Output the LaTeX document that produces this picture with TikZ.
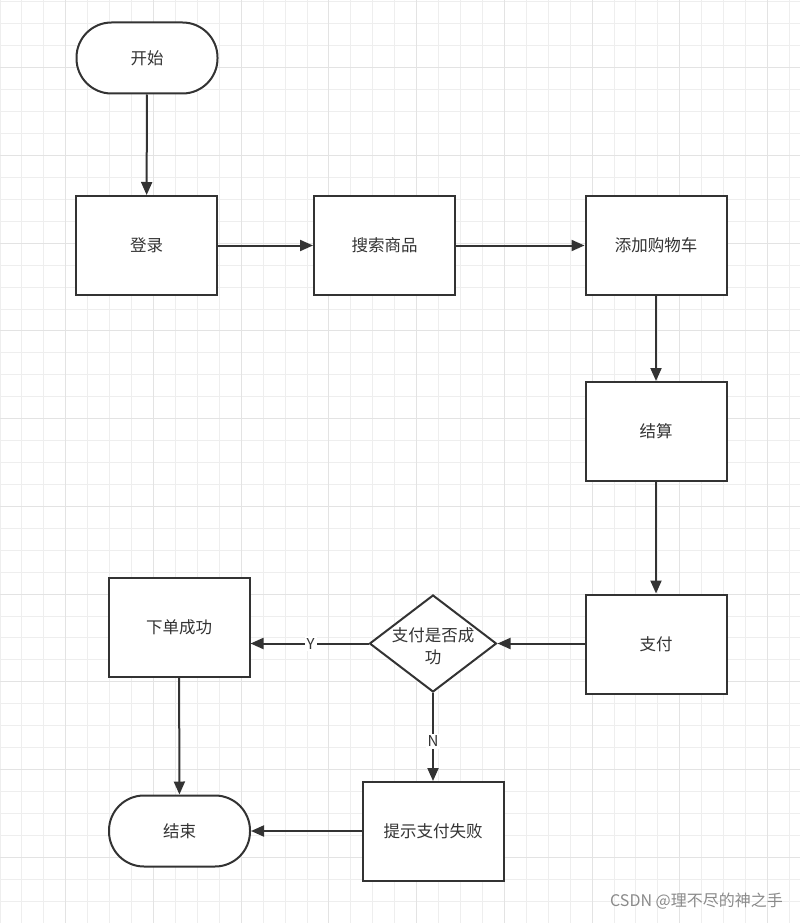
\documentclass[tikz,border=0pt]{standalone}
\usepackage{fontspec}
\newfontfamily\cjk{Noto Sans CJK SC}
\usetikzlibrary{arrows.meta,shapes.geometric}
\definecolor{linec}{HTML}{333333}
\definecolor{textc}{HTML}{333333}
\definecolor{gridminor}{HTML}{EEEEEE}
\definecolor{gridmajor}{HTML}{E3E3E3}
\definecolor{markc}{HTML}{8A8A8A}
\tikzset{
  box/.style={draw=linec, line width=2pt, fill=white, rectangle, minimum width=141pt, minimum height=99pt, inner sep=0pt, font=\cjk\fontsize{16.5}{20}\selectfont, text=textc},
  term/.style={draw=linec, line width=2pt, fill=white, rectangle, rounded corners=35pt, minimum width=141pt, minimum height=71pt, inner sep=0pt, font=\cjk\fontsize{16.5}{20}\selectfont, text=textc},
  decide/.style={draw=linec, line width=2pt, fill=white, diamond, inner sep=0pt, minimum width=127pt, minimum height=97pt},
  decidetext/.style={inner sep=0pt, font=\cjk\fontsize{16.5}{21.5}\selectfont, text=textc, align=center},
  conn/.style={draw=linec, line width=2pt, -{Triangle[length=13pt,width=11pt]}},
  lbl/.style={fill=white, inner sep=2pt, font=\cjk\fontsize{15}{18}\selectfont, text=textc},
  gminor/.style={draw=gridminor, line width=1pt},
  gmajor/.style={draw=gridmajor, line width=1pt}
}
\begin{document}
\begin{tikzpicture}[x=1pt,y=-1pt]
\useasboundingbox (0,0) rectangle (800,923);
\fill[white] (0,0) rectangle (800,923);
% grid
\foreach \i in {0,...,36}{
  \draw[gminor] (\i*21.93,0) -- (\i*21.93,923);
}
\foreach \i in {0,...,42}{
  \draw[gminor] (0,2+\i*21.93) -- (800,2+\i*21.93);
}
\foreach \i in {0,...,8}{
  \draw[gmajor] (65.79+\i*87.72,0) -- (65.79+\i*87.72,923);
}
\foreach \i in {0,...,10}{
  \draw[gmajor] (0,67.79+\i*87.72) -- (800,67.79+\i*87.72);
}
% nodes
\node[term] (start) at (147,58) {开始};
\node[box] (login) at (146.5,245.5) {登录};
\node[box] (search) at (384.5,245.5) {搜索商品};
\node[box] (cart) at (656,245.5) {添加购物车};
\node[box] (settle) at (656,431.5) {结算};
\node[box] (pay) at (656,644) {支付};
\node[decide] (ok) at (433,643.5) {};
\node[decidetext] (okt) at (433,646) {支付是否成\\功};
\node[box] (done) at (179,627.5) {下单成功};
\node[term] (end) at (179.5,831) {结束};
\node[box] (fail) at (433,831.5) {提示支付失败};
% connectors
\draw[conn] (start) -- (login);
\draw[conn] (login) -- (search);
\draw[conn] (search) -- (cart);
\draw[conn] (cart) -- (settle);
\draw[conn] (settle) -- (pay);
\draw[conn] (pay.west |- ok.east) -- (ok.east);
\draw[conn] (ok.west) -- node[lbl, pos=0.49] (ylab) {Y} (done.east |- ok.west);
\draw[conn] (ok.south) -- node[lbl, pos=0.55] (nlab) {N} (fail.north);
\draw[conn] (done) -- (end);
\draw[conn] (fail.west |- end.east) -- (end.east);
% watermark
\node[font=\cjk\fontsize{16}{20}\selectfont, text=markc, anchor=east, inner sep=0pt] (wm) at (783,901) {CSDN @理不尽的神之手};
\end{tikzpicture}
\end{document}
